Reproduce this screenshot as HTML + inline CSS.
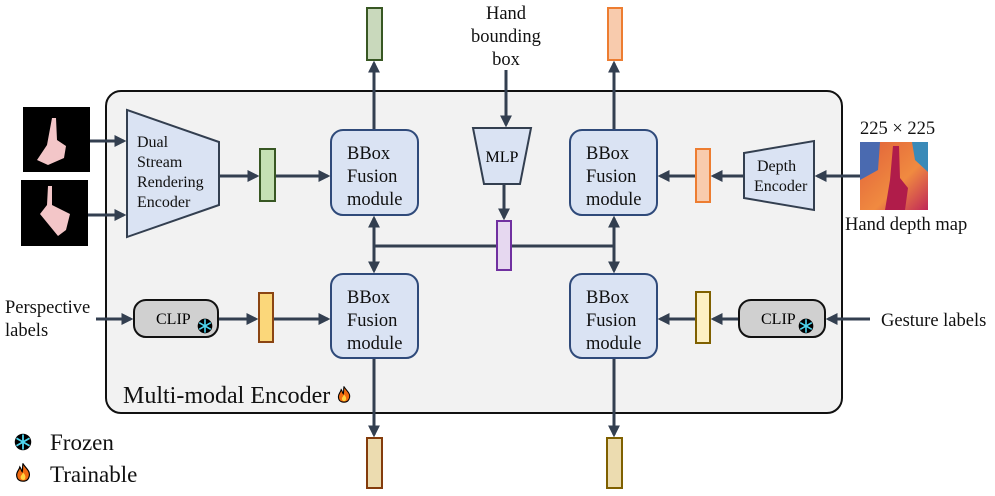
<!DOCTYPE html>
<html><head><meta charset="utf-8"><style>
html,body{margin:0;padding:0;background:#fff;}
svg{display:block;font-family:"Liberation Serif",serif;}
</style></head><body>
<svg width="995" height="496" viewBox="0 0 995 496" xmlns="http://www.w3.org/2000/svg">
<defs>
<marker id="a" markerWidth="4" markerHeight="4" refX="3.2" refY="2" orient="auto" markerUnits="strokeWidth">
<path d="M0,0 L4,2 L0,4 z" fill="#333f50"/></marker>
<symbol id="fire" viewBox="0 0 20 24"><path d="M10 1 C14 7 19 10 18 16 C17 22 13 23 10 23 C6 23 2 21 2 15 C2 11 5 9 6 5 C8 8 8 10 9 11 C10 7 9 4 10 1z" fill="#f06a10" stroke="#000" stroke-width="1.5"/><path d="M10 12 C13 15 14 18 12 21 C10 22 7 21 7 18 C7 16 9 15 10 12z" fill="#ffd23f"/></symbol>
<symbol id="snow" viewBox="0 0 24 24"><circle cx="12" cy="12" r="11" fill="#000"/><g stroke="#4fd6f0" stroke-width="2.4"><line x1="12" y1="2" x2="12" y2="22"/><line x1="3.3" y1="7" x2="20.7" y2="17"/><line x1="3.3" y1="17" x2="20.7" y2="7"/></g></symbol>
<linearGradient id="dg" x1="0" y1="0" x2="1" y2="1"><stop offset="0" stop-color="#e0603a"/><stop offset="0.6" stop-color="#f08a40"/><stop offset="1" stop-color="#c02858"/></linearGradient>
</defs>
<rect x="106" y="91" width="736" height="322" rx="15" fill="#f2f2f2" stroke="#111" stroke-width="2"/>
<rect x="23" y="107" width="67" height="65" fill="#000"/>
<path d="M52 118 L56 118 L57 140 L66 146 L64 158 L48 165 L37 160 L47 145z" fill="#f3c6c8"/>
<rect x="21" y="180" width="67" height="66" fill="#000"/>
<path d="M48 186 L52 186 L52 205 L70 214 L66 230 L58 236 L40 214 L47 205z" fill="#f3c6c8"/>
<rect x="860" y="142" width="68" height="68" fill="url(#dg)"/>
<path d="M860 142 L880 142 L878 170 L860 180z" fill="#4a6ab0"/>
<path d="M912 142 L928 142 L928 172 L915 160z" fill="#3a8ab8"/>
<path d="M893 146 L899 146 L900 178 L908 188 L905 210 L885 210 L890 180z" fill="#b01c4a"/>
<g fill="none" stroke="#333f50" stroke-width="3">
<line x1="90" y1="141" x2="124" y2="141" marker-end="url(#a)"/>
<line x1="88" y1="215" x2="124" y2="215" marker-end="url(#a)"/>
<line x1="219" y1="176" x2="257" y2="176" marker-end="url(#a)"/>
<line x1="275" y1="176" x2="328" y2="176" marker-end="url(#a)"/>
<line x1="96" y1="319" x2="131" y2="319" marker-end="url(#a)"/>
<line x1="218" y1="319" x2="256" y2="319" marker-end="url(#a)"/>
<line x1="273" y1="319" x2="328" y2="319" marker-end="url(#a)"/>
<line x1="374" y1="130" x2="374" y2="63" marker-end="url(#a)"/>
<line x1="614" y1="130" x2="614" y2="63" marker-end="url(#a)"/>
<line x1="374" y1="358" x2="374" y2="435" marker-end="url(#a)"/>
<line x1="614" y1="358" x2="614" y2="435" marker-end="url(#a)"/>
<line x1="506" y1="70" x2="506" y2="125" marker-end="url(#a)"/>
<line x1="504" y1="184" x2="504" y2="218" marker-end="url(#a)"/>
<line x1="374" y1="246" x2="614" y2="246"/>
<line x1="374" y1="246" x2="374" y2="218" marker-end="url(#a)"/>
<line x1="374" y1="246" x2="374" y2="271" marker-end="url(#a)"/>
<line x1="614" y1="246" x2="614" y2="218" marker-end="url(#a)"/>
<line x1="614" y1="246" x2="614" y2="271" marker-end="url(#a)"/>
<line x1="860" y1="176" x2="817" y2="176" marker-end="url(#a)"/>
<line x1="744" y1="176" x2="713" y2="176" marker-end="url(#a)"/>
<line x1="696" y1="176" x2="660" y2="176" marker-end="url(#a)"/>
<line x1="870" y1="319" x2="828" y2="319" marker-end="url(#a)"/>
<line x1="739" y1="319" x2="713" y2="319" marker-end="url(#a)"/>
<line x1="696" y1="319" x2="660" y2="319" marker-end="url(#a)"/>
</g>
<path d="M127 110 L219 142 L219 205 L127 237z" fill="#dae3f3" stroke="#333f50" stroke-width="2"/>
<g font-size="16" fill="#111"><text x="137" y="147">Dual</text><text x="137" y="167">Stream</text><text x="137" y="187">Rendering</text><text x="137" y="207">Encoder</text></g>
<path d="M744 153 L814 141 L814 210 L744 198z" fill="#dae3f3" stroke="#333f50" stroke-width="2"/>
<g font-size="16" fill="#111"><text x="757" y="171">Depth</text><text x="754" y="191">Encoder</text></g>
<path d="M473 128 L531 128 L520 184 L484 184z" fill="#dae3f3" stroke="#333f50" stroke-width="2"/>
<text x="502" y="162" font-size="16" text-anchor="middle">MLP</text>
<g fill="#dae3f3" stroke="#2f4a7a" stroke-width="2">
<rect x="331" y="130" width="87" height="85" rx="12"/>
<rect x="570" y="130" width="87" height="85" rx="12"/>
<rect x="331" y="274" width="87" height="84" rx="12"/>
<rect x="570" y="274" width="87" height="84" rx="12"/>
</g>
<g font-size="18.5" fill="#111">
<text x="347" y="159">BBox</text><text x="347" y="182">Fusion</text><text x="347" y="205">module</text>
<text x="586" y="159">BBox</text><text x="586" y="182">Fusion</text><text x="586" y="205">module</text>
<text x="347" y="303">BBox</text><text x="347" y="326">Fusion</text><text x="347" y="349">module</text>
<text x="586" y="303">BBox</text><text x="586" y="326">Fusion</text><text x="586" y="349">module</text>
</g>
<rect x="134" y="300" width="84" height="37" rx="12" fill="#d0d0d0" stroke="#111" stroke-width="2"/>
<text x="156" y="324" font-size="16">CLIP</text>
<use href="#snow" x="197" y="318" width="16" height="16"/>
<rect x="739" y="300" width="86" height="37" rx="12" fill="#d0d0d0" stroke="#111" stroke-width="2"/>
<text x="761" y="324" font-size="16">CLIP</text>
<use href="#snow" x="798" y="318" width="16" height="16"/>
<rect x="260" y="149" width="15" height="52" fill="#c5e0b4" stroke="#385723" stroke-width="2"/>
<rect x="259" y="293" width="14" height="49" fill="#fbd77a" stroke="#8b4513" stroke-width="2"/>
<rect x="696" y="149" width="14" height="53" fill="#f8cbad" stroke="#ed7d31" stroke-width="2"/>
<rect x="696" y="292" width="14" height="51" fill="#fdf0c4" stroke="#7f6000" stroke-width="2"/>
<rect x="497" y="221" width="14" height="49" fill="#e6d8f0" stroke="#7030a0" stroke-width="2"/>
<rect x="367" y="8" width="15" height="52" fill="#c9d9bc" stroke="#385723" stroke-width="2"/>
<rect x="608" y="8" width="14" height="52" fill="#f8cbad" stroke="#ed7d31" stroke-width="2"/>
<rect x="367" y="438" width="15" height="50" fill="#ecdcb0" stroke="#843c0c" stroke-width="2"/>
<rect x="607" y="438" width="15" height="50" fill="#ecdcb0" stroke="#7f6000" stroke-width="2"/>
<g font-size="18.5" fill="#111">
<text x="506" y="19" text-anchor="middle">Hand</text>
<text x="506" y="42" text-anchor="middle">bounding</text>
<text x="506" y="65" text-anchor="middle">box</text>
<text x="5" y="313">Perspective</text><text x="5" y="336">labels</text>
<text x="881" y="326">Gesture labels</text>
<text x="860" y="134">225 × 225</text>
<text x="845" y="230">Hand depth map</text>
<text x="123" y="403" font-size="24">Multi-modal Encoder</text>
<text x="50" y="450" font-size="23">Frozen</text>
<text x="50" y="482" font-size="23">Trainable</text>
</g>
<use href="#fire" x="337" y="386" width="14" height="17"/>
<use href="#snow" x="14" y="433" width="18" height="18"/>
<use href="#fire" x="15" y="463" width="16" height="19"/>
</svg>
</body></html>
